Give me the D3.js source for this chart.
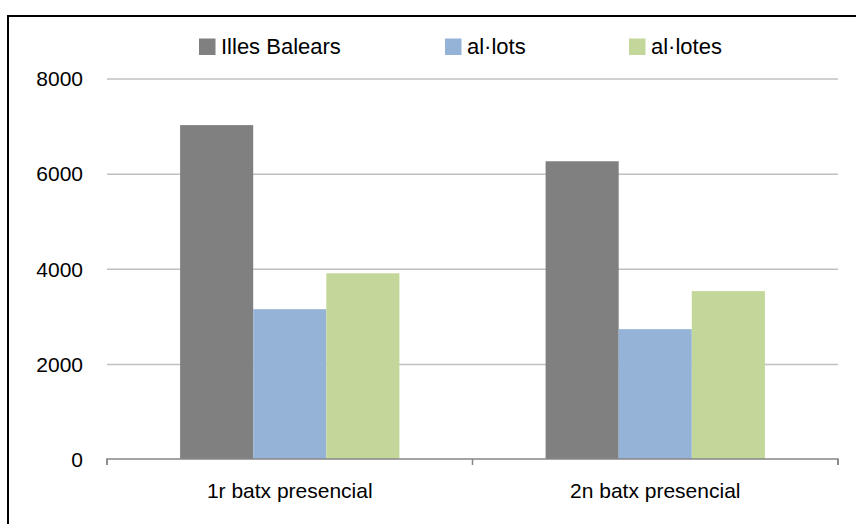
<!DOCTYPE html>
<html>
<head>
  <meta charset="utf-8">
  <script src="https://d3js.org/d3.v7.min.js"></script>
  <style>
    body { margin: 0; background: #fff; }
    svg { font-family: "Liberation Sans", Arial, sans-serif; }
    .grid line { stroke: #c0c0c0; stroke-width: 1.5; }
    .grid path { display: none; }
    .yaxis path, .yaxis line { display: none; }
    .yaxis text { font-size: 21px; fill: #000; }
    .xaxis path, .xaxis line { stroke: #868686; stroke-width: 1.5; }
    .xaxis text { font-size: 21px; fill: #000; }
    .legend text { font-size: 22px; fill: #000; }
  </style>
</head>
<body>
  <div id="chart"></div>
  <script>
    // chart data
    const categories = ["1r batx presencial", "2n batx presencial"];
    const seriesNames = ["Illes Balears", "al·lots", "al·lotes"];
    const seriesColors = ["#808080", "#95b3d7", "#c4d79b"];
    const illesBalears = [7020, 6260];
    const allots = [3150, 2730];
    const allotes = [3905, 3530];
    const yTicks = [0, 2000, 4000, 6000, 8000];

    const seriesValues = [illesBalears, allots, allotes];

    const W = 856, H = 524;
    const plot = {left: 107, right: 838, top: 78.5, bottom: 459};

    const svg = d3.select("#chart").append("svg")
      .attr("width", W)
      .attr("height", H);

    // outer frame (runs off the right and bottom edges)
    svg.append("rect")
      .attr("x", 8).attr("y", 16)
      .attr("width", W).attr("height", H)
      .attr("fill", "none")
      .attr("stroke", "#000")
      .attr("stroke-width", 2);

    const x = d3.scaleBand()
      .domain(categories)
      .range([plot.left, plot.right]);

    // Excel style gap width 200%: bars take 3/5 of each band
    const x1 = d3.scaleBand()
      .domain(seriesNames)
      .range([x.bandwidth() / 5, x.bandwidth() * 4 / 5]);

    const y = d3.scaleLinear()
      .domain([0, 8000])
      .range([plot.bottom, plot.top]);

    // gridlines
    svg.append("g")
      .attr("class", "grid")
      .attr("transform", `translate(${plot.left},0)`)
      .call(d3.axisLeft(y).tickValues(yTicks.filter(d => d > 0))
        .tickSize(-(plot.right - plot.left)).tickFormat(""));

    // y labels
    svg.append("g")
      .attr("class", "yaxis")
      .attr("transform", `translate(${plot.left - 24},0)`)
      .call(d3.axisLeft(y).tickValues(yTicks).tickFormat(d3.format("d"))
        .tickSize(0).tickPadding(0))
      .selectAll("text").attr("dy", "0.35em");

    // bars
    const groups = svg.append("g").selectAll("g")
      .data(categories)
      .join("g")
      .attr("transform", d => `translate(${x(d)},0)`);

    groups.selectAll("rect")
      .data((d, i) => seriesNames.map((s, k) => ({s, k, v: seriesValues[k][i]})))
      .join("rect")
      .attr("x", d => x1(d.s))
      .attr("width", x1.bandwidth())
      .attr("y", d => y(d.v))
      .attr("height", d => y(0) - y(d.v))
      .attr("fill", d => seriesColors[d.k]);

    // x axis with ticks between categories
    const xa = svg.append("g")
      .attr("class", "xaxis")
      .attr("transform", `translate(0,${plot.bottom})`)
      .call(d3.axisBottom(x).tickSize(0).tickPadding(24));
    xa.select("path").attr("d", `M${plot.left},6V0H${plot.right}V6`);
    const edges = [plot.left, x(categories[1]), plot.right];
    xa.selectAll(".edge").data(edges).join("line")
      .attr("class", "edge")
      .attr("x1", d => d).attr("x2", d => d)
      .attr("y1", 0).attr("y2", 6);

    // legend
    const legendX = [199, 445, 629];
    const legend = svg.append("g").attr("class", "legend");
    seriesNames.forEach((s, k) => {
      legend.append("rect")
        .attr("x", legendX[k]).attr("y", 38.5)
        .attr("width", 16.5).attr("height", 16.5)
        .attr("fill", seriesColors[k]);
      legend.append("text")
        .attr("x", legendX[k] + 22).attr("y", 53.5)
        .text(s);
    });
  </script>
</body>
</html>
